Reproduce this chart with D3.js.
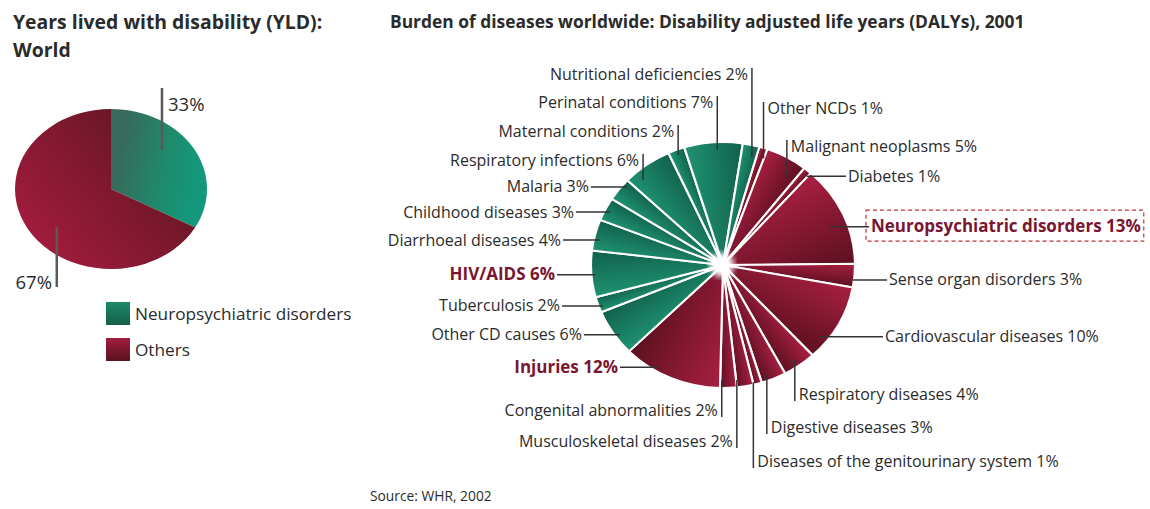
<!DOCTYPE html>
<html>
<head>
<meta charset="utf-8">
<script src="https://cdn.jsdelivr.net/npm/d3@7"></script>
<style>
  body { margin: 0; background: #fff; }
  svg text { font-family: "Open Sans", Lato, sans-serif; fill: #2b2b2b; }
</style>
</head>
<body>
<svg id="chart" width="1150" height="509"></svg>
<script>
// YLD pie (left)
const yldLabels = ["Neuropsychiatric disorders", "Others"];
const yldValues = [33, 67];

// DALY pie (right), clockwise order
const dalyLabels = [
  "Other NCDs", "Malignant neoplasms", "Diabetes", "Neuropsychiatric disorders",
  "Sense organ disorders", "Cardiovascular diseases", "Respiratory diseases",
  "Digestive diseases", "Diseases of the genitourinary system", "Musculoskeletal diseases",
  "Congenital abnormalities", "Injuries", "Other CD causes", "Tuberculosis", "HIV/AIDS",
  "Diarrhoeal diseases", "Childhood diseases", "Malaria", "Respiratory infections",
  "Maternal conditions", "Perinatal conditions", "Nutritional deficiencies"
];
const dalyValues = [1, 5, 1, 13, 3, 10, 4, 3, 1, 2, 2, 12, 6, 2, 6, 4, 3, 3, 6, 2, 7, 2];
const dalyGroups = ["ncd", "ncd", "ncd", "ncd", "ncd", "ncd", "ncd", "ncd", "ncd", "ncd", "ncd", "ncd",
  "cd", "cd", "cd", "cd", "cd", "cd", "cd", "cd", "cd", "cd"];
const highlighted = ["Neuropsychiatric disorders", "HIV/AIDS", "Injuries"];

// label layout: kind v = vertical leader (pos = text baseline), h = horizontal leader (pos = text x)
// t = position along the slice, r = radius fraction of the leader's inner end
const labelLayout = [
  { kind: "v", side: "R", pos: 114, t: 0.95, r: 0.92 },
  { kind: "v", side: "R", pos: 152, t: 0.8, r: 0.857 },
  { kind: "h", side: "R", pos: 848, t: 0.9, r: 0.96 },
  { kind: "h", side: "R", pos: 871, t: 0.57, r: 0.867 },
  { kind: "h", side: "R", pos: 889, t: 0.69, r: 0.99 },
  { kind: "h", side: "R", pos: 885, t: 0.76, r: 0.94 },
  { kind: "v", side: "R", pos: 400, t: 0.52, r: 0.945 },
  { kind: "v", side: "R", pos: 433, t: 0.7, r: 0.954 },
  { kind: "v", side: "R", pos: 467, t: 0.95, r: 0.98 },
  { kind: "v", side: "L", pos: 447, t: 0.95, r: 0.94 },
  { kind: "v", side: "L", pos: 416, t: 0.9, r: 0.935 },
  { kind: "h", side: "L", pos: 618, t: 0.67, r: 0.968 },
  { kind: "h", side: "L", pos: 582, t: 0.39, r: 0.966 },
  { kind: "h", side: "L", pos: 560, t: 0.34, r: 0.97 },
  { kind: "h", side: "L", pos: 555, t: 0.48, r: 0.97 },
  { kind: "h", side: "L", pos: 561, t: 0.37, r: 0.954 },
  { kind: "h", side: "L", pos: 574, t: 0.47, r: 0.958 },
  { kind: "h", side: "L", pos: 589, t: 0.78, r: 0.965 },
  { kind: "v", side: "L", pos: 166, t: 0.24, r: 0.92 },
  { kind: "v", side: "L", pos: 137, t: 0.49, r: 0.957 },
  { kind: "v", side: "L", pos: 108, t: 0.56, r: 0.936 },
  { kind: "v", side: "L", pos: 80, t: 0.73, r: 0.905 }
];

const svg = d3.select("#chart");
const defs = svg.append("defs");

const colors = {
  cd: ["#1f9372", "#11604b"],
  ncd: ["#a91f42", "#5c1020"]
};

// ---------- left: YLD ----------
const L = { cx: 111, cy: 189, rx: 96, ry: 80 };

svg.append("text").attr("x", 13).attr("y", 29)
  .style("font-size", "19.4px").style("font-weight", "bold")
  .text("Years lived with disability (YLD):");
svg.append("text").attr("x", 13).attr("y", 57)
  .style("font-size", "19.4px").style("font-weight", "bold")
  .text("World");

const gGreen = defs.append("linearGradient").attr("id", "yld0")
  .attr("x1", 0.1).attr("y1", 0.3).attr("x2", 0.9).attr("y2", 0.5);
gGreen.append("stop").attr("offset", 0).attr("stop-color", "#376a5a");
gGreen.append("stop").attr("offset", 0.6).attr("stop-color", "#1f8a6c");
gGreen.append("stop").attr("offset", 1).attr("stop-color", "#14977a");
const gRed = defs.append("linearGradient").attr("id", "yld1")
  .attr("x1", 0).attr("y1", 0.85).attr("x2", 1).attr("y2", 0.1);
gRed.append("stop").attr("offset", 0).attr("stop-color", "#a81c3f");
gRed.append("stop").attr("offset", 1).attr("stop-color", "#561520");

const yldPie = d3.pie().sort(null).value(d => d)(yldValues);
const yldArc = d3.arc().innerRadius(0).outerRadius(L.ry);
const gl = svg.append("g")
  .attr("transform", `translate(${L.cx},${L.cy}) scale(${L.rx / L.ry},1)`);
gl.selectAll("path").data(yldPie).join("path")
  .attr("d", yldArc)
  .attr("fill", (d, i) => `url(#yld${i})`);

const yldLeader = [
  { t: 0.4, r: 0.72, top: 88, tx: 168, ty: 111, anchor: "start" },
  { t: 0.46, r: 0.74, top: 287, tx: 52, ty: 289, anchor: "end" }
];
yldPie.forEach((d, i) => {
  const lay = yldLeader[i];
  const a = d.startAngle + lay.t * (d.endAngle - d.startAngle);
  const x = L.cx + L.rx * lay.r * Math.sin(a);
  const y = L.cy - L.ry * lay.r * Math.cos(a);
  svg.append("line").attr("x1", x).attr("y1", y).attr("x2", x).attr("y2", lay.top)
    .attr("stroke", "#5a5a5a").attr("stroke-width", 2.5);
  svg.append("text").attr("x", lay.tx).attr("y", lay.ty)
    .attr("text-anchor", lay.anchor)
    .style("font-size", "18.5px")
    .text(yldValues[i] + "%");
});

// legend
const legGrad = [["#1d8a69", "#145e48"], ["#a21c3e", "#5a1320"]];
legGrad.forEach((c, i) => {
  const g = defs.append("linearGradient").attr("id", "leg" + i)
    .attr("x1", 0).attr("y1", 0).attr("x2", 0).attr("y2", 1);
  g.append("stop").attr("offset", 0).attr("stop-color", c[0]);
  g.append("stop").attr("offset", 1).attr("stop-color", c[1]);
});
const legend = svg.append("g").attr("transform", "translate(106,302)");
yldLabels.forEach((lab, i) => {
  legend.append("rect").attr("x", 0).attr("y", i * 36).attr("width", 24).attr("height", 23)
    .attr("fill", `url(#leg${i})`);
  legend.append("text").attr("x", 29).attr("y", i * 36 + 18)
    .style("font-size", "17.2px").text(lab);
});

// ---------- right: DALYs ----------
const R = { cx: 723, cy: 265, rx: 132, ry: 123 };

svg.append("text").attr("x", 390).attr("y", 28)
  .style("font-size", "17.4px").style("font-weight", "bold")
  .text("Burden of diseases worldwide: Disability adjusted life years (DALYs), 2001");

const start = 16 * Math.PI / 180;
const dalyPie = d3.pie().sort(null).value(d => d)
  .startAngle(start).endAngle(start + 2 * Math.PI)(dalyValues);
const dalyArc = d3.arc().innerRadius(0).outerRadius(R.ry);

dalyPie.forEach((d, i) => {
  const c = colors[dalyGroups[i]];
  const g = defs.append("linearGradient").attr("id", "daly" + i)
    .attr("gradientUnits", "userSpaceOnUse")
    .attr("x1", R.ry * Math.sin(d.startAngle)).attr("y1", -R.ry * Math.cos(d.startAngle))
    .attr("x2", R.ry * Math.sin(d.endAngle)).attr("y2", -R.ry * Math.cos(d.endAngle));
  g.append("stop").attr("offset", 0).attr("stop-color", c[0]);
  g.append("stop").attr("offset", 1).attr("stop-color", c[1]);
});

const gr = svg.append("g")
  .attr("transform", `translate(${R.cx},${R.cy}) scale(${R.rx / R.ry},1)`);
gr.selectAll("path").data(dalyPie).join("path")
  .attr("d", dalyArc)
  .attr("fill", (d, i) => `url(#daly${i})`)
  .attr("stroke", "#fff")
  .attr("stroke-width", 2)
  .attr("stroke-linejoin", "round");

defs.append("filter").attr("id", "soft")
  .append("feGaussianBlur").attr("stdDeviation", 3);
svg.append("circle").attr("cx", R.cx - 1).attr("cy", R.cy).attr("r", 12)
  .attr("fill", "#fff").attr("filter", "url(#soft)");
svg.append("circle").attr("cx", R.cx - 1).attr("cy", R.cy).attr("r", 7).attr("fill", "#fff");

const leaders = svg.append("g");
const labels = svg.append("g");

dalyPie.forEach((d, i) => {
  const lay = labelLayout[i];
  const a = d.startAngle + lay.t * (d.endAngle - d.startAngle);
  const x = R.cx + R.rx * lay.r * Math.sin(a);
  const y = R.cy - R.ry * lay.r * Math.cos(a);
  const hl = highlighted.includes(dalyLabels[i]);
  let tx, ty;
  if (lay.kind === "v") {
    const above = lay.pos < y;
    const y2 = above ? lay.pos - 12 : lay.pos + 1;
    leaders.append("line").attr("x1", x).attr("y1", y).attr("x2", x).attr("y2", y2);
    tx = lay.side === "L" ? x - 4 : x + 4;
    ty = lay.pos;
  } else {
    const x2 = lay.side === "L" ? lay.pos + 2 : lay.pos - 2;
    leaders.append("line").attr("x1", x).attr("y1", y).attr("x2", x2).attr("y2", y);
    tx = lay.pos;
    ty = y + 5.5;
  }
  const t = labels.append("text")
    .attr("x", tx).attr("y", ty)
    .attr("text-anchor", lay.side === "L" ? "end" : "start")
    .style("font-size", hl ? "17px" : "16px")
    .style("font-weight", hl ? "bold" : "normal")
    .style("fill", hl ? "#7a1530" : null)
    .text(dalyLabels[i] + " " + dalyValues[i] + "%");
  if (dalyLabels[i] === "Neuropsychiatric disorders") {
    const b = t.node().getBBox();
    svg.append("rect")
      .attr("x", b.x - 5).attr("y", b.y - 4)
      .attr("width", b.width + 8).attr("height", b.height + 8)
      .attr("fill", "none").attr("stroke", "#c0303a")
      .attr("stroke-width", 1.2).attr("stroke-dasharray", "4,3");
  }
});
leaders.selectAll("line").attr("stroke", "#333").attr("stroke-width", 1.5);

svg.append("text").attr("x", 370).attr("y", 501)
  .style("font-size", "13.8px").text("Source: WHR, 2002");
</script>
</body>
</html>
